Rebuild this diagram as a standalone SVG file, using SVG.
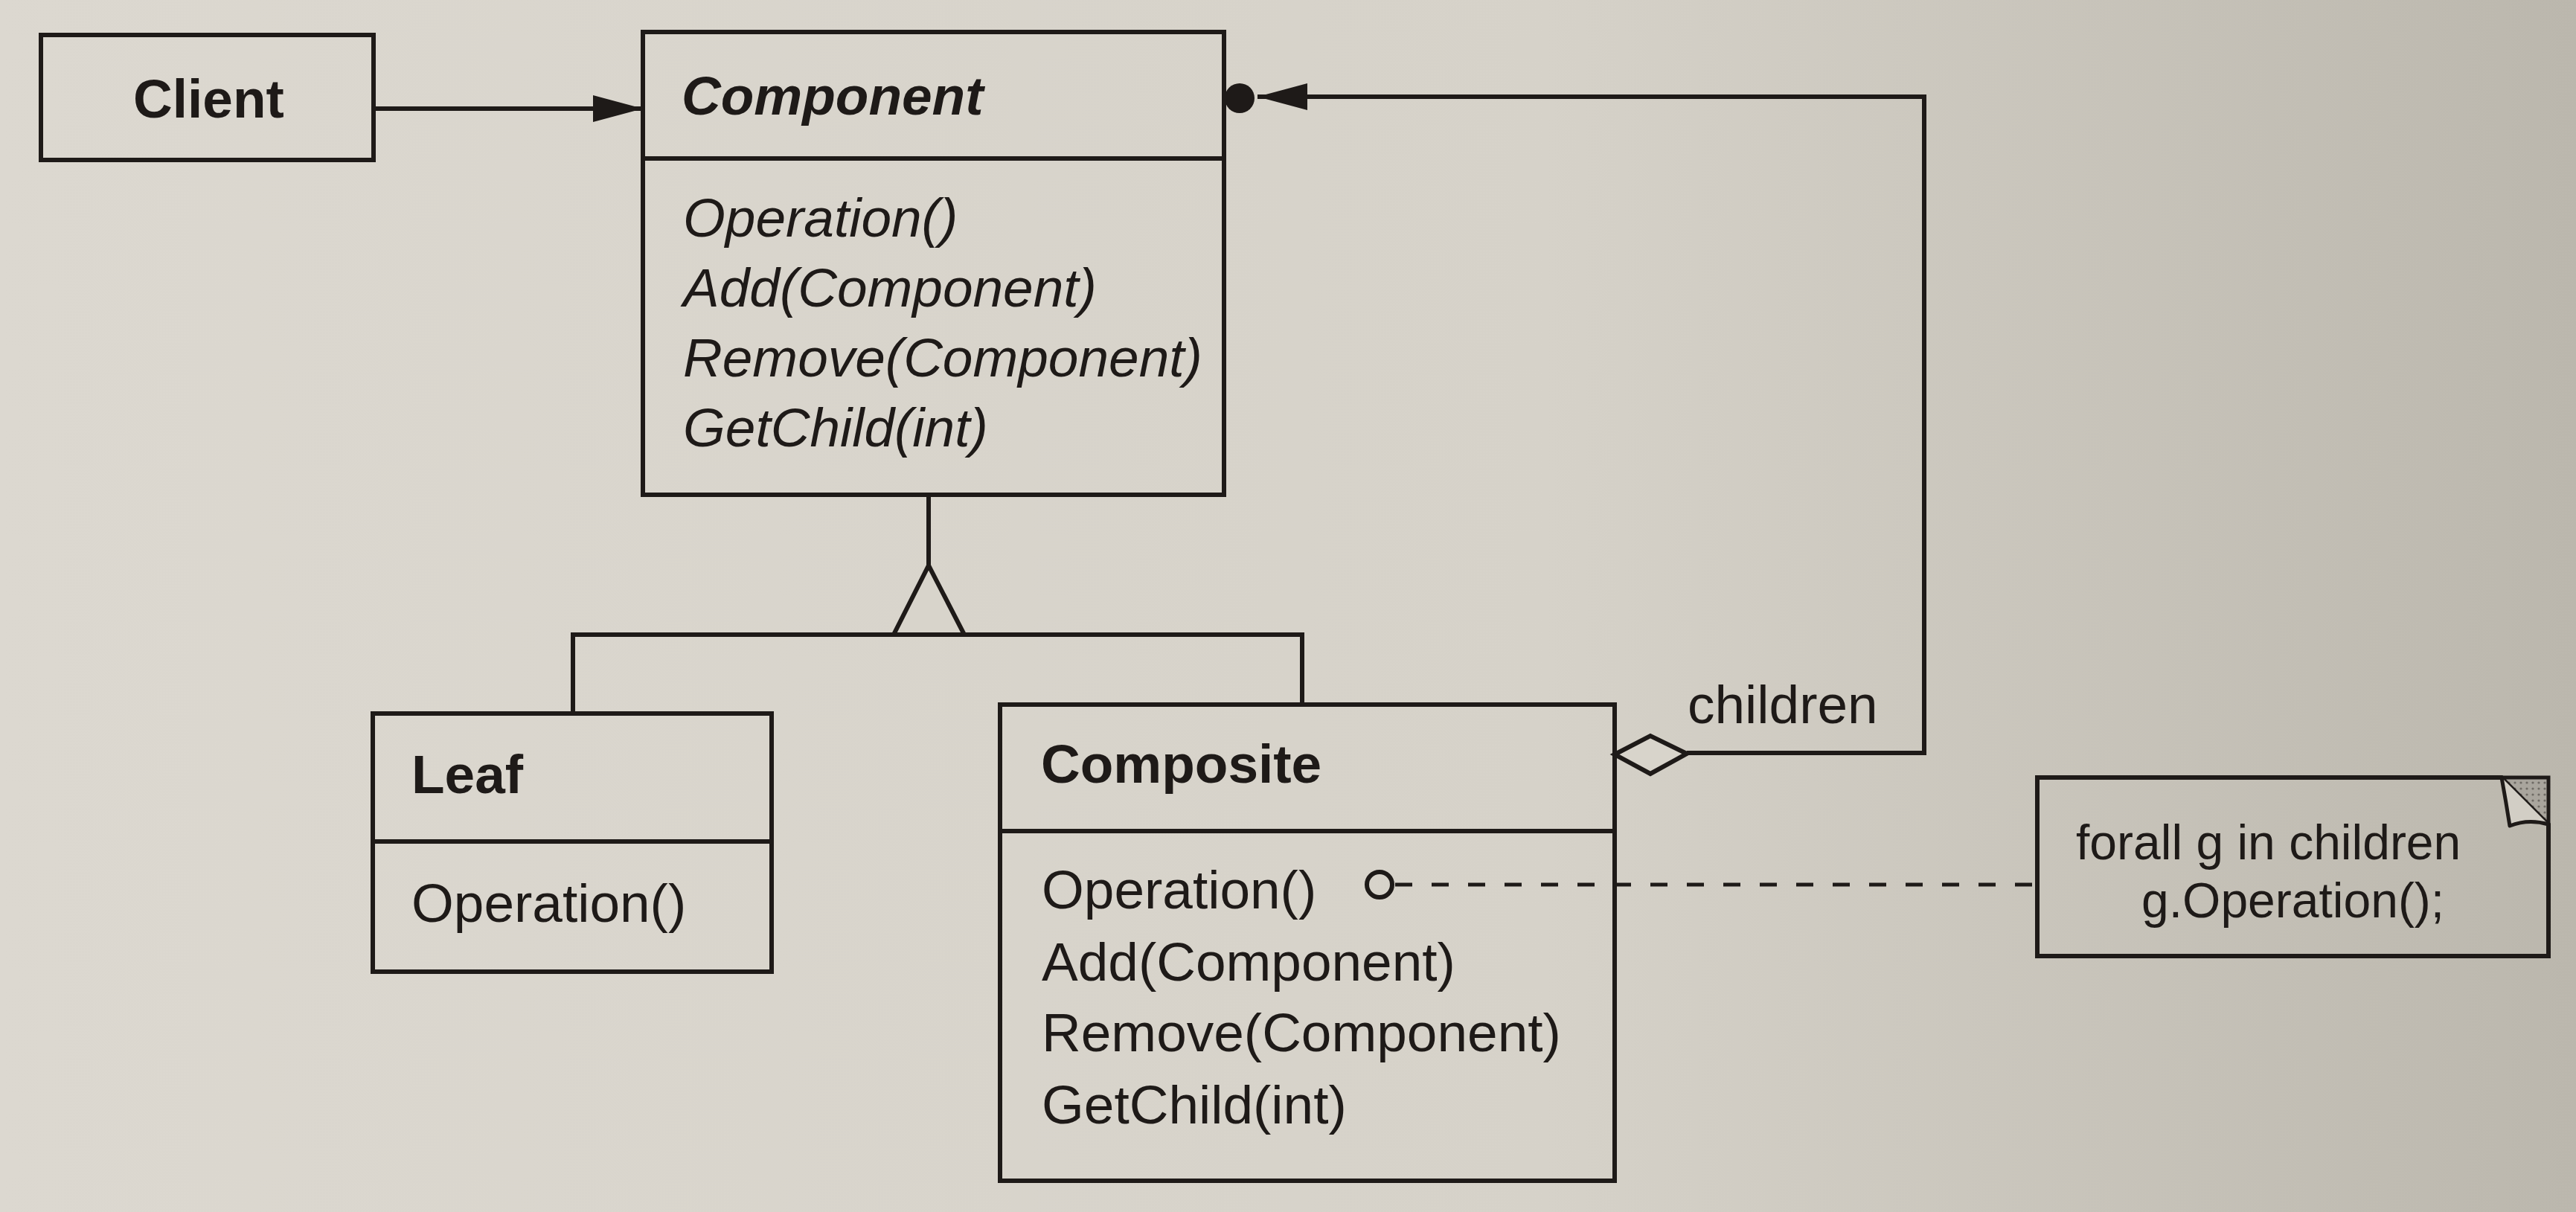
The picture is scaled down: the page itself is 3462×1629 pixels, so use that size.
<svg xmlns="http://www.w3.org/2000/svg" width="3462" height="1629" viewBox="0 0 3462 1629">
  <defs>
    <linearGradient id="paper" x1="0" y1="0" x2="1" y2="0">
      <stop offset="0" stop-color="#dcd8d0"/>
      <stop offset="0.6" stop-color="#d6d2c9"/>
      <stop offset="1" stop-color="#bbb7ad"/>
    </linearGradient>
    <pattern id="dots" width="8" height="8" patternUnits="userSpaceOnUse">
      <rect width="8" height="8" fill="#a9a59d"/>
      <circle cx="4" cy="4" r="1.6" fill="#6f6b65"/>
    </pattern>
    <marker id="filledArrow" markerWidth="68" markerHeight="38" refX="67" refY="19" orient="auto" markerUnits="userSpaceOnUse">
      <path d="M0,1 L67,19 L0,37 Z" fill="#1e1a18"/>
    </marker>
  </defs>
  <style>
    .box { fill: none; stroke: #1e1a18; stroke-width: 6; }
    .line { fill: none; stroke: #1e1a18; stroke-width: 6; }
    .dash { fill: none; stroke: #1e1a18; stroke-width: 5; stroke-dasharray: 23 26; }
    text { font-family: "Liberation Sans", Arial, sans-serif; fill: #1e1a18; font-size: 73px; }
    .title { font-weight: bold; }
    .abstract { font-style: italic; }
    .note { font-size: 66px; }
  </style>
  <rect x="0" y="0" width="3462" height="1629" fill="url(#paper)"/>

  <g id="connectors">
    <!-- Client -> Component -->
    <line class="line" x1="502" y1="146" x2="864" y2="146" marker-end="url(#filledArrow)"/>
    <!-- children aggregation -->
    <polyline class="line" points="2267,1012 2586,1012 2586,130 1690,130" marker-end="url(#filledArrow)"/>
    <circle cx="1666" cy="132" r="20" fill="#1e1a18"/>
    <path d="M2170,1014 L2218,989 L2267,1013 L2218,1040 Z" fill="#d8d4cb" stroke="#1e1a18" stroke-width="6" stroke-linejoin="miter"/>
    <text x="2268" y="972">children</text>
    <!-- inheritance -->
    <line class="line" x1="1248" y1="665" x2="1248" y2="760"/>
    <path d="M1248,760 L1296,853 L1201,853 Z" fill="#d8d4cb" stroke="#1e1a18" stroke-width="6"/>
    <polyline class="line" points="770,959 770,853 1750,853 1750,947"/>
    <!-- note link -->
    <circle cx="1854" cy="1189" r="17" fill="none" stroke="#1e1a18" stroke-width="6"/>
    <line class="dash" x1="1875" y1="1189" x2="2738" y2="1189"/>
  </g>

  <g id="client">
    <rect class="box" x="55" y="47" width="447" height="168"/>
    <text class="title" x="179" y="158">Client</text>
  </g>

  <g id="component">
    <rect class="box" x="864" y="43" width="781" height="622"/>
    <line class="line" x1="864" y1="213" x2="1645" y2="213"/>
    <text class="title abstract" x="916" y="154">Component</text>
    <text class="abstract" x="918" y="318">Operation()</text>
    <text class="abstract" x="918" y="412">Add(Component)</text>
    <text class="abstract" x="918" y="506">Remove(Component)</text>
    <text class="abstract" x="918" y="600">GetChild(int)</text>
  </g>

  <g id="leaf">
    <rect class="box" x="501" y="959" width="536" height="347"/>
    <line class="line" x1="501" y1="1131" x2="1037" y2="1131"/>
    <text class="title" x="553" y="1066">Leaf</text>
    <text x="553" y="1239">Operation()</text>
  </g>

  <g id="composite">
    <rect class="box" x="1344" y="947" width="826" height="640"/>
    <line class="line" x1="1344" y1="1117" x2="2170" y2="1117"/>
    <text class="title" x="1399" y="1052">Composite</text>
    <text x="1400" y="1221">Operation()</text>
    <text x="1400" y="1318">Add(Component)</text>
    <text x="1400" y="1413">Remove(Component)</text>
    <text x="1400" y="1510">GetChild(int)</text>
  </g>

  <g id="note">
    <path class="box" d="M2738,1045 L3362,1045 L3425,1108 L3425,1285 L2738,1285 Z"/>
    <path d="M3362,1045 L3425,1045 L3425,1108 Z" fill="url(#dots)" stroke="#1e1a18" stroke-width="5"/>
    <path d="M3362,1045 Q3368,1078 3373,1110 Q3398,1100 3425,1108" fill="#d2cec5" stroke="#1e1a18" stroke-width="5" stroke-linejoin="round"/>
    <text class="note" x="2790" y="1155">forall g in children</text>
    <text class="note" x="2878" y="1233">g.Operation();</text>
  </g>
</svg>
